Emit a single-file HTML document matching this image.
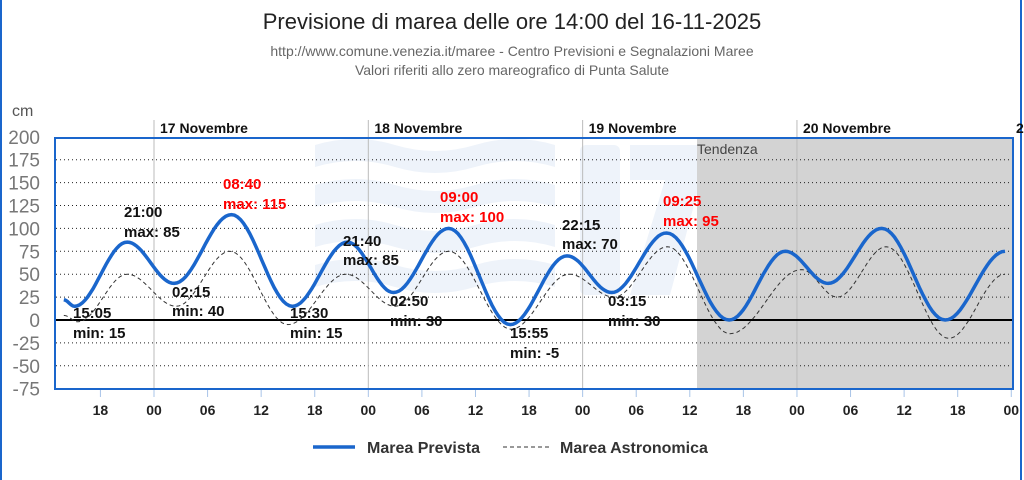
<!DOCTYPE html>
<html><head><meta charset="utf-8"><style>
html,body{margin:0;padding:0;background:#fff;}
svg{display:block;font-family:"Liberation Sans",sans-serif;}
</style></head><body>
<svg id="s" width="1024" height="480" xmlns="http://www.w3.org/2000/svg">
<rect x="0" y="0" width="1024" height="480" fill="#fff"/>
<line x1="1" y1="0" x2="1" y2="480" stroke="#1a66cc" stroke-width="2"/>
<line x1="1021" y1="0" x2="1021" y2="480" stroke="#1a66cc" stroke-width="2"/>
<text x="512" y="29" text-anchor="middle" font-size="22" fill="#222">Previsione di marea delle ore 14:00 del 16-11-2025</text>
<text x="512" y="56" text-anchor="middle" font-size="14" fill="#666">http://www.comune.venezia.it/maree - Centro Previsioni e Segnalazioni Maree</text>
<text x="512" y="75" text-anchor="middle" font-size="14" fill="#666">Valori riferiti allo zero mareografico di Punta Salute</text>
<text x="12" y="116" font-size="16" fill="#555">cm</text>
<g fill="#eef3fa">
<path d="M315 145 q40 -12 80 0 t80 0 t80 0 v22 q-40 -12 -80 0 t-80 0 t-80 0z"/>
<path d="M315 185 q40 -12 80 0 t80 0 t80 0 v22 q-40 -12 -80 0 t-80 0 t-80 0z"/>
<path d="M315 225 q40 -12 80 0 t80 0 t80 0 v22 q-40 -12 -80 0 t-80 0 t-80 0z"/>
<path d="M315 265 q40 -12 80 0 t80 0 t80 0 v22 q-40 -12 -80 0 t-80 0 t-80 0z"/>
<rect x="580" y="145" width="40" height="150" rx="6"/>
<path d="M630 145 h80 l-40 150 h-40 l35 -115 h-35z"/>
</g>
<rect x="697" y="138" width="316" height="251" fill="#d3d3d3"/>
<text x="697" y="154" font-size="14" fill="#444">Tendenza</text>
<g id="grid" stroke="#222" stroke-width="1" stroke-dasharray="1,3"></g>
<g id="days" stroke="#bbb" stroke-width="1"></g>
<g id="ticks" stroke="#a8c4e8" stroke-width="1"></g>
<line x1="55" y1="320" x2="1013" y2="320" stroke="#000" stroke-width="2"/>
<rect x="55" y="138" width="958" height="251" fill="none" stroke="#1a66cc" stroke-width="2"/>
<g id="ylab" font-size="19" fill="#777" text-anchor="end"></g>
<g id="xlab" font-size="14" font-weight="bold" fill="#222" text-anchor="middle"></g>
<path id="astro" fill="none" stroke="#333" stroke-width="1" stroke-dasharray="4,3"/>
<path id="prev" fill="none" stroke="#1a66cc" stroke-width="3.5"/>
<g font-size="15" font-weight="bold" fill="#111">
<text x="73" y="318">15:05</text><text x="73" y="338">min: 15</text>
<text x="124" y="217">21:00</text><text x="124" y="237">max: 85</text>
<text x="172" y="297">02:15</text><text x="172" y="316">min: 40</text>
<text x="290" y="318">15:30</text><text x="290" y="338">min: 15</text>
<text x="343" y="246">21:40</text><text x="343" y="265">max: 85</text>
<text x="390" y="306">02:50</text><text x="390" y="326">min: 30</text>
<text x="510" y="338">15:55</text><text x="510" y="358">min: -5</text>
<text x="562" y="230">22:15</text><text x="562" y="249">max: 70</text>
<text x="608" y="306">03:15</text><text x="608" y="326">min: 30</text>
</g>
<g font-size="15" font-weight="bold" fill="#f00">
<text x="223" y="189">08:40</text><text x="223" y="209">max: 115</text>
<text x="440" y="202">09:00</text><text x="440" y="222">max: 100</text>
<text x="663" y="206">09:25</text><text x="663" y="226">max: 95</text>
</g>
<line x1="313" y1="447" x2="355" y2="447" stroke="#1a66cc" stroke-width="3.5"/>
<text x="367" y="453" font-size="16" font-weight="bold" fill="#333">Marea Prevista</text>
<line x1="503" y1="447" x2="550" y2="447" stroke="#333" stroke-width="1" stroke-dasharray="4,3"/>
<text x="560" y="453" font-size="16" font-weight="bold" fill="#333">Marea Astronomica</text>
</svg>
<script>
var NS="http://www.w3.org/2000/svg";
function el(p,t,a,txt){var e=document.createElementNS(NS,t);for(var k in a)e.setAttribute(k,a[k]);if(txt!=null)e.textContent=txt;document.getElementById(p).appendChild(e);}
function Y(v){return 320-v*0.916;}
function X(h){return 154+h*8.93;}
for(var v=-75;v<=200;v+=25){ if(v!==0&&v!==200&&v!==-75) el("grid","line",{x1:56,x2:1012,y1:Y(v),y2:Y(v)}); el("ylab","text",{x:40,y:Y(v)+7},String(v));}
var days=["17 Novembre","18 Novembre","19 Novembre","20 Novembre"];
for(var d=0;d<4;d++){var x=X(d*24);el("days","line",{x1:x,x2:x,y1:120,y2:389});
 var t=document.createElementNS(NS,"text");t.setAttribute("x",x+6);t.setAttribute("y",133);t.setAttribute("font-size","14");t.setAttribute("font-weight","bold");t.setAttribute("fill","#111");t.textContent=days[d];document.getElementById("s").appendChild(t);}
var t=document.createElementNS(NS,"text");t.setAttribute("x",1016);t.setAttribute("y",133);t.setAttribute("font-size","14");t.setAttribute("font-weight","bold");t.setAttribute("fill","#111");t.textContent="2";document.getElementById("s").appendChild(t);
for(var h=-6;h<=96;h+=6){var x=X(h);el("ticks","line",{x1:x,x2:x,y1:390,y2:397});var hh=((h%24)+24)%24;el("xlab","text",{x:x,y:415},(hh<10?"0":"")+hh);}
function path(pts){var s="";for(var i=0;i<pts.length-1;i++){var a=pts[i],b=pts[i+1];for(var k=0;k<=20;k++){var f=k/20,h=a[0]+(b[0]-a[0])*f,v=a[1]+(b[1]-a[1])*(1-Math.cos(Math.PI*f))/2;s+=(s?"L":"M")+X(h).toFixed(1)+" "+Y(v).toFixed(1);}}return s;}
var P=[[-10.1,22],[-8.9,15],[-3,85],[2.25,40],[8.67,115],[15.5,15],[21.67,85],[26.83,30],[33,100],[39.9,-5],[46.25,70],[51.25,30],[57.4,95],[64.4,0],[70.7,75],[75.5,40],[81.5,100],[88.6,0],[95.3,75]];
var A=[[-10.1,5],[-8.5,-2],[-3,50],[2.5,15],[8.5,75],[15,-5],[21.5,50],[27,15],[33,75],[40,-10],[46.5,50],[51.5,25],[57.5,80],[64.5,-15],[72.5,55],[76.5,25],[82,80],[89,-20],[95.3,50]];
document.getElementById("prev").setAttribute("d",path(P));
document.getElementById("astro").setAttribute("d",path(A));
</script>
</body></html>
